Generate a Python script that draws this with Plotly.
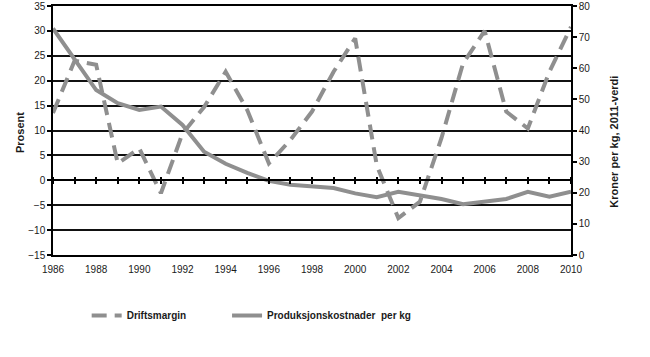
import plotly.graph_objects as go

years = list(range(1986, 2011))
driftsmargin = [13.5, 24.0, 23.2, 3.4, 6.4, -2.6, 9.4, 14.7, 21.8, 14.1, 3.4, 8.1, 13.8,
                21.8, 28.5, 3.0, -7.6, -4.3, 8.5, 23.5, 30.0, 13.8, 10.4, 21.8, 30.8]
produksjonskostnader = [72.8, 62.7, 53.0, 48.8, 46.6, 47.7, 41.8, 33.2, 29.3, 26.4, 23.8, 22.6, 22.2,
                        21.5, 19.8, 18.6, 20.3, 19.0, 18.0, 16.3, 17.0, 18.0, 20.3, 18.7, 20.3]
left_ticks = list(range(-15, 40, 5))
right_ticks = list(range(0, 90, 10))
x_ticks = list(range(1986, 2011, 2))

GRAY = "#8f8f8f"
FONT = "Liberation Sans, Arial, sans-serif"
TXT = "#1a1a1a"

fig = go.Figure()
fig.add_trace(go.Scatter(x=years, y=driftsmargin, name="Driftsmargin", mode="lines",
                         line=dict(color=GRAY, width=4, dash="15px,8px"),
                         xaxis="x", yaxis="y", legend="legend"))
fig.add_trace(go.Scatter(x=years, y=produksjonskostnader,
                         name="Produksjonskostnader\u00a0\u00a0per kg", mode="lines",
                         line=dict(color=GRAY, width=4),
                         xaxis="x2", yaxis="y2", legend="legend2"))
# empty helper trace so the upper half of the zero-line ticks gets drawn
fig.add_trace(go.Scatter(x=[], y=[], xaxis="x3", yaxis="y", showlegend=False,
                         hoverinfo="skip"))

zero_pos = (0 - left_ticks[0]) / (left_ticks[-1] - left_ticks[0])

leg_font = dict(family=FONT, size=10, color=TXT, weight="bold")

fig.update_layout(
    width=650, height=357,
    margin=dict(l=53, r=79, t=6, b=102, autoexpand=False),
    paper_bgcolor="white", plot_bgcolor="white",
    font=dict(family=FONT, size=10, color=TXT),
    showlegend=True,
    legend=dict(orientation="h", x=0.065, xanchor="left", y=-0.243, yanchor="middle",
                font=leg_font, bgcolor="rgba(0,0,0,0)"),
    legend2=dict(orientation="h", x=0.336, xanchor="left", y=-0.243, yanchor="middle",
                 font=leg_font, bgcolor="rgba(0,0,0,0)"),
    xaxis=dict(range=[years[0], years[-1]], tickvals=x_ticks, showgrid=False, zeroline=False,
               showline=True, linecolor="black", linewidth=1.5, mirror=True, ticks="",
               ticklabelstandoff=4,
               tickfont=dict(size=10, color=TXT), automargin=False),
    xaxis2=dict(range=[years[0], years[-1]], overlaying="x", anchor="free", position=zero_pos,
                side="bottom", tickvals=years, ticks="outside", ticklen=3, tickwidth=1.5,
                tickcolor="black", showticklabels=False, showgrid=False, zeroline=False,
                showline=True, linecolor="black", linewidth=1.5, automargin=False),
    xaxis3=dict(range=[years[0], years[-1]], overlaying="x", anchor="free", position=zero_pos,
                side="top", tickvals=years, ticks="outside", ticklen=3, tickwidth=1.5,
                tickcolor="black", showticklabels=False, showgrid=False, zeroline=False,
                showline=False, automargin=False),
    yaxis=dict(range=[left_ticks[0], left_ticks[-1]], tickvals=left_ticks,
               showgrid=True, gridcolor="#111111", gridwidth=1.5, zeroline=False,
               showline=True, linecolor="black", linewidth=1.5,
               ticks="outside", ticklen=4, tickwidth=1.5, tickcolor="black",
               tickfont=dict(size=10, color=TXT), automargin=False),
    yaxis2=dict(range=[right_ticks[0], right_ticks[-1]], tickvals=right_ticks, overlaying="y",
                side="right", showgrid=False, zeroline=False,
                showline=True, linecolor="black", linewidth=1.5,
                ticks="outside", ticklen=4, tickwidth=1.5, tickcolor="black",
                tickfont=dict(size=10, color=TXT), automargin=False),
    annotations=[
        dict(text="<b>Prosent</b>", textangle=-90, xref="paper", yref="paper",
             x=-0.079, y=0.49, showarrow=False, font=dict(size=11, color=TXT)),
        dict(text="<b>Kroner per kg, 2011-verdi</b>", textangle=-90, xref="paper", yref="paper",
             x=1.098, y=0.454, showarrow=False, font=dict(size=11, color=TXT)),
    ],
)

fig.write_html("out.html", config={"displayModeBar": False},
               post_script="document.body.style.margin='0';")
